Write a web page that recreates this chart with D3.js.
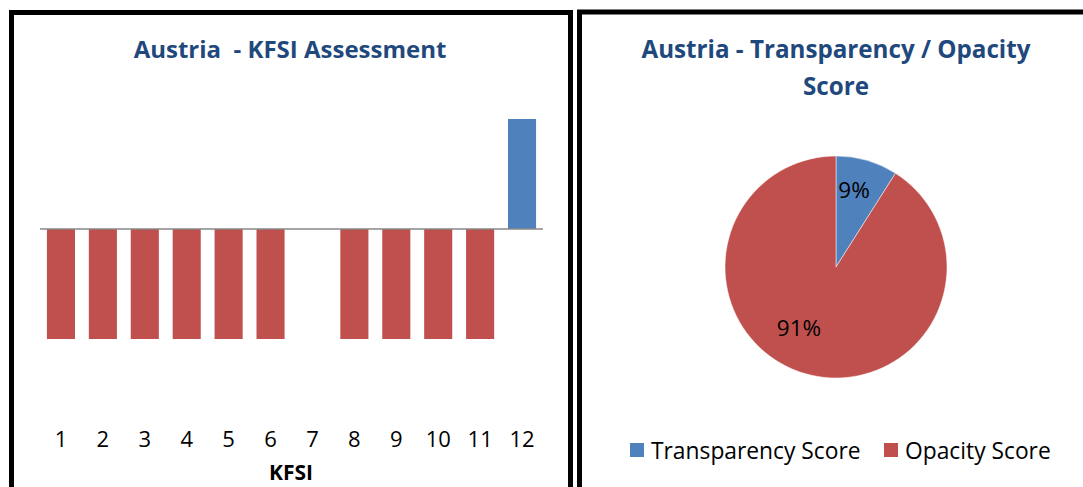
<!DOCTYPE html>
<html><head><meta charset="utf-8">
<script src="https://cdn.jsdelivr.net/npm/d3@7"></script>
<style>body{margin:0;background:#fff}svg{display:block}</style>
</head><body>
<svg id="c" width="1083" height="487"></svg>
<script>
const categories = ["1","2","3","4","5","6","7","8","9","10","11","12"];
const kfsiValues = [-1,-1,-1,-1,-1,-1,0,-1,-1,-1,-1,1];
const pieLabels = ["Transparency Score","Opacity Score"];
const pieValues = [9,91];
const colors = {blue:"#4F81BD", red:"#C0504D", title:"#1F497D"};
const font = "'Open Sans', sans-serif";

const svg = d3.select("#c");
// panel borders
svg.append("rect").attr("x",11.5).attr("y",12.5).attr("width",559).attr("height",500)
  .attr("fill","none").attr("stroke","#000").attr("stroke-width",5);
svg.append("rect").attr("x",579.5).attr("y",12).attr("width",520).attr("height",500)
  .attr("fill","none").attr("stroke","#000").attr("stroke-width",5);

// ---- bar chart ----
const x = d3.scaleBand().domain(categories).range([40,543]).paddingInner(0.33).paddingOuter(0.165);
const y = d3.scaleLinear().domain([-1.5,1.5]).range([394,64]);
const g = svg.append("g");
g.selectAll("rect.bar").data(kfsiValues).join("rect")
  .attr("x",(d,i)=>x(categories[i]))
  .attr("width",x.bandwidth())
  .attr("y",d=>y(Math.max(0,d)))
  .attr("height",d=>Math.abs(y(d)-y(0)))
  .attr("fill",d=>d>0?colors.blue:colors.red);
g.append("line").attr("x1",40).attr("x2",543).attr("y1",y(0)).attr("y2",y(0))
  .attr("stroke","#878787").attr("stroke-width",1.5);
const xAxis = d3.axisBottom(x).tickSize(0).tickPadding(0);
const ax = g.append("g").attr("transform","translate(0,439)").call(xAxis);
ax.select(".domain").remove();
ax.selectAll("text").attr("font-family",font).attr("font-size",22).attr("fill","#000")
  .attr("dy","0.35em").attr("y",0);
g.append("text").attr("x",291).attr("y",480).attr("text-anchor","middle")
  .attr("font-family",font).attr("font-weight","bold").attr("font-size",21).text("KFSI");
g.append("text").attr("x",290).attr("y",58).attr("text-anchor","middle")
  .attr("font-family",font).attr("font-weight","bold").attr("font-size",24).attr("fill",colors.title)
  .attr("xml:space","preserve").style("white-space","pre").text("Austria  - KFSI Assessment");

// ---- pie ----
const cx = 836, cy = 267, r = 111;
const pie = d3.pie().sort(null).value(d=>d);
const arcs = pie(pieValues);
const arc = d3.arc().innerRadius(0).outerRadius(r);
const pg = svg.append("g").attr("transform",`translate(${cx},${cy})`);
pg.selectAll("path").data(arcs).join("path").attr("d",arc)
  .attr("fill",(d,i)=>i===0?colors.blue:colors.red).attr("stroke","#fff").attr("stroke-width",0.5);
const labelPos = [[18,-77],[-37,61]];
pg.selectAll("text.pl").data(arcs).join("text")
  .attr("x",(d,i)=>labelPos[i][0]).attr("y",(d,i)=>labelPos[i][1])
  .attr("text-anchor","middle").attr("dy","0.35em")
  .attr("font-family",font).attr("font-size",22.5).attr("fill","#000")
  .text(d=>Math.round(d.data)+"%");
const tg = svg.append("text").attr("text-anchor","middle").attr("font-family",font)
  .attr("font-weight","bold").attr("font-size",24.2).attr("fill",colors.title);
tg.append("tspan").attr("x",836).attr("y",58).text("Austria - Transparency / Opacity");
tg.append("tspan").attr("x",836).attr("y",95).text("Score");

// legend
const legX = [630,884];
const lg = svg.append("g");
pieLabels.forEach((l,i)=>{
  lg.append("rect").attr("x",legX[i]).attr("y",443).attr("width",14).attr("height",14)
    .attr("fill",i===0?colors.blue:colors.red);
  lg.append("text").attr("x",legX[i]+21).attr("y",451).attr("dy","0.35em")
    .attr("font-family",font).attr("font-size",22.8).attr("fill","#000").text(l);
});
</script>
</body></html>
